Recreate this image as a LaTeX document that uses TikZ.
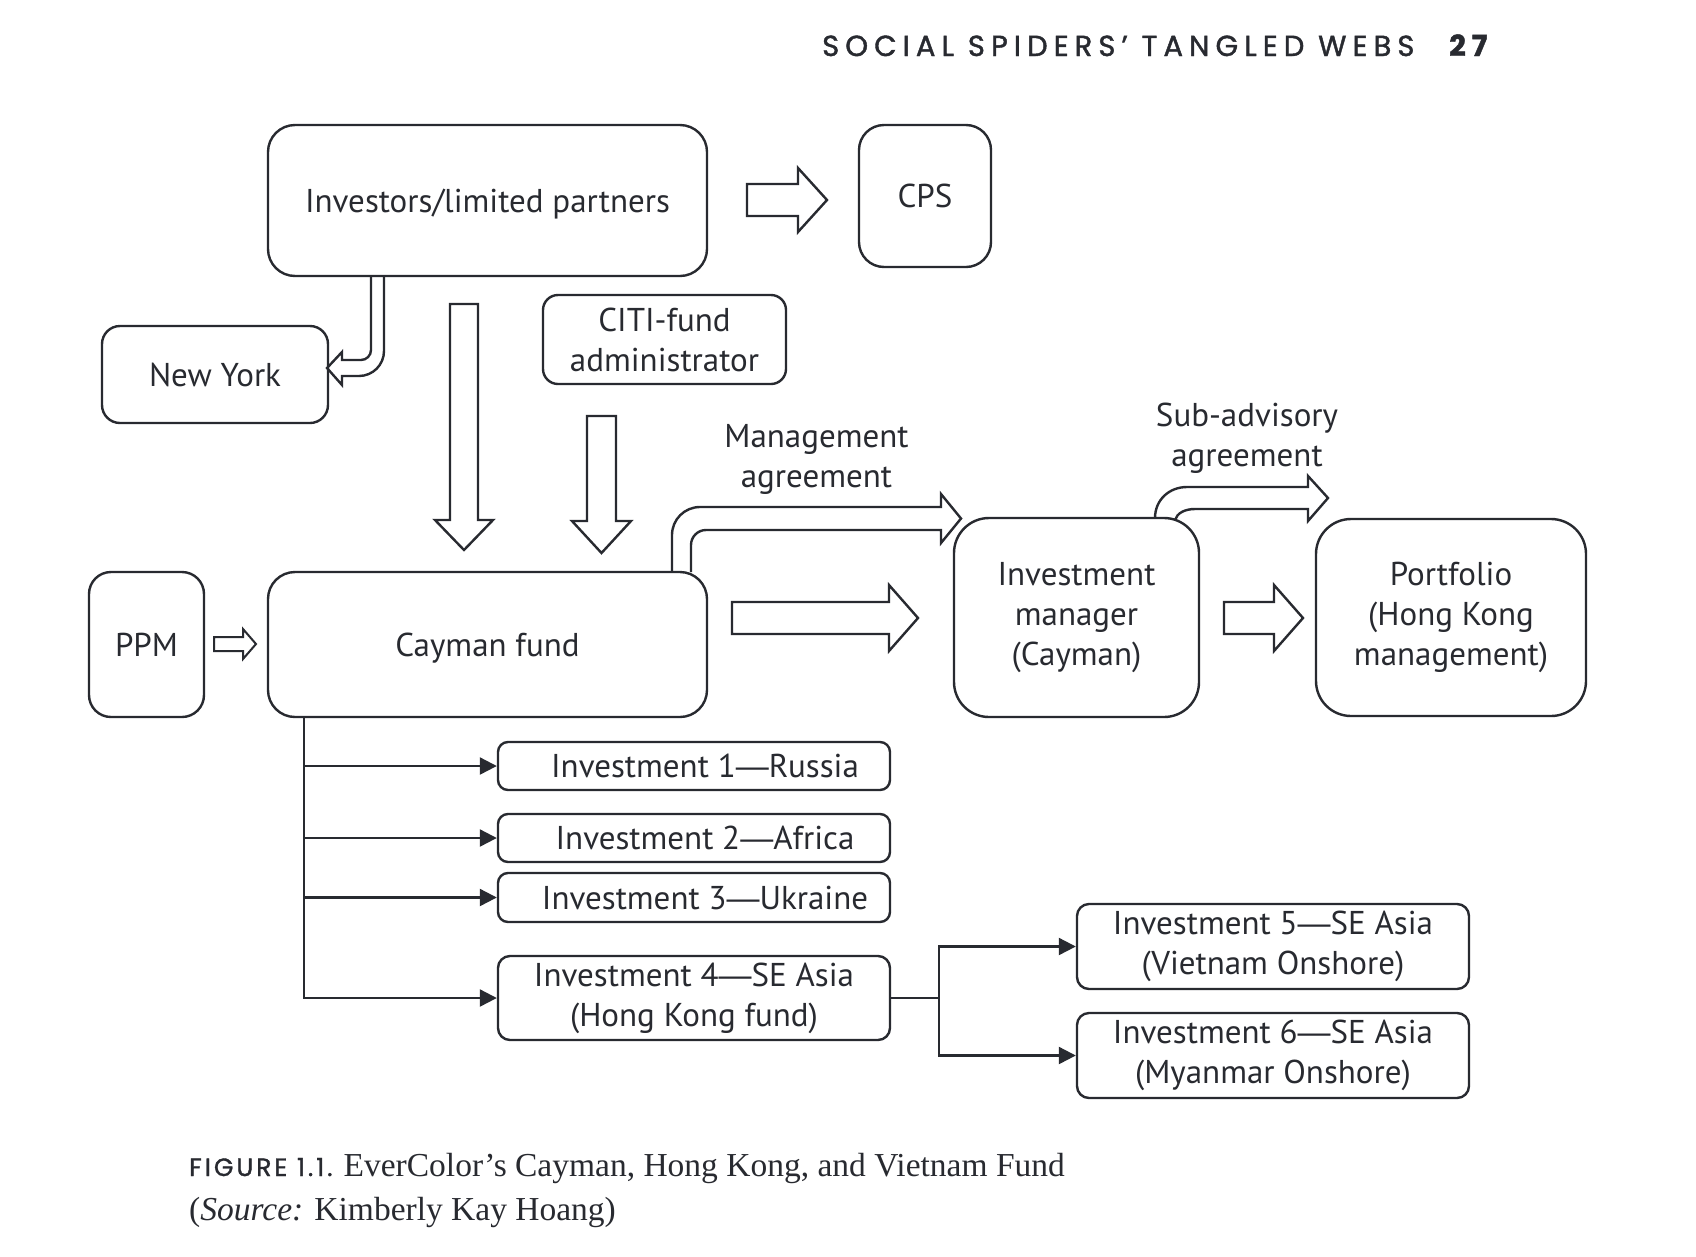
\documentclass[tikz,border=0pt]{standalone}
\usepackage{fontspec}
\usetikzlibrary{arrows.meta}
\newfontfamily\boxfont{PT Sans}
\newfontfamily\dashfont{Liberation Sans}
\newfontfamily\serifcap{Liberation Serif}
\newfontfamily\headfont[LetterSpace=21,FakeBold=1.4]{Poppins}
\newfontfamily\figfont[LetterSpace=12,FakeBold=1.3]{Poppins}
\newcommand\emd{{\dashfont —}}
\definecolor{ink}{RGB}{40,42,48}

\begin{document}
\begin{tikzpicture}[x=1pt,y=-1pt,
  every node/.style={text=ink, font=\boxfont\fontsize{33}{40}\selectfont},
  box/.style={draw=ink, line width=2.4pt, inner sep=0pt, align=center},
  hollow/.style={draw=ink, line width=2.4pt, line join=miter},
  link/.style={draw=ink, line width=2.2pt},
  tip/.style={link, -{Triangle[length=17pt,width=17pt]}},
]
\useasboundingbox[fill=white] (0,0) rectangle (1696,1256);

% running head
\node[anchor=base west, inner sep=0pt, font=\headfont\fontsize{29}{29}\selectfont] (head) at (822,56) {SOCIAL SPIDERS’ TANGLED WEBS};
\node[anchor=base west, inner sep=0pt, font=\headfont\bfseries\fontsize{29}{29}\selectfont] (page) at (1449,56) {27};

% boxes
\node[box, text depth=0pt, minimum width=439pt, minimum height=151pt, rounded corners=27pt] (inv) at (487.5,200.5) {Investors/limited partners};
\node[box, minimum width=132pt, minimum height=142pt, rounded corners=25pt] (cps) at (925,196) {CPS};
\node[box, minimum width=226pt, minimum height=97pt, rounded corners=18pt] (ny) at (215,374.5) {New York};
\node[box, minimum width=243pt, minimum height=89pt, rounded corners=15pt] (citi) at (664.5,339.5) {CITI-fund\\administrator};
\node[box, minimum width=115pt, minimum height=145pt, rounded corners=22pt] (ppm) at (146.5,644.5) {PPM};
\node[box, text depth=0pt, minimum width=439pt, minimum height=145pt, rounded corners=27pt] (cay) at (487.5,644.5) {Cayman fund};
\node[box, minimum width=245pt, minimum height=199pt, rounded corners=35pt] (mgr) at (1076.5,617.5) {Investment\\manager\\(Cayman)};
\node[box, minimum width=270pt, minimum height=197pt, rounded corners=35pt] (port) at (1451,617.5) {Portfolio\\(Hong Kong\\management)};
\node[box, minimum width=392pt, minimum height=48pt, rounded corners=10pt] (i1) at (694,766) {\hspace*{22pt}Investment 1\emd Russia};
\node[box, minimum width=392pt, minimum height=48pt, rounded corners=10pt] (i2) at (694,838) {\hspace*{22pt}Investment 2\emd Africa};
\node[box, minimum width=392pt, minimum height=49pt, rounded corners=10pt] (i3) at (694,897.5) {\hspace*{22pt}Investment 3\emd Ukraine};
\node[box, minimum width=392pt, minimum height=84pt, rounded corners=12pt] (i4) at (694,998) {Investment 4\emd SE Asia\\(Hong Kong fund)};
\node[box, minimum width=392pt, minimum height=85pt, rounded corners=12pt] (i5) at (1273,946.5) {Investment 5\emd SE Asia\\(Vietnam Onshore)};
\node[box, minimum width=392pt, minimum height=85pt, rounded corners=12pt] (i6) at (1273,1055.5) {Investment 6\emd SE Asia\\(Myanmar Onshore)};

% labels on the agreement arrows
\node[align=center, inner sep=0pt] (mgmt) at (816.5,459) {Management\\agreement};
\node[align=center, inner sep=0pt] (sub) at (1247,438) {Sub-advisory\\agreement};

% straight block arrows
\draw[hollow] (747,184) -- (798,184) -- (798,168) -- (827,200) -- (798,232) -- (798,216) -- (747,216) -- cycle;
\draw[hollow, line width=2pt] (214,637) -- (243,637) -- (243,629) -- (256,644) -- (243,659) -- (243,651) -- (214,651) -- cycle;
\draw[hollow] (732,602) -- (889,602) -- (889,585) -- (918,618) -- (889,651) -- (889,634) -- (732,634) -- cycle;
\draw[hollow] (1224,602) -- (1274,602) -- (1274,585) -- (1303,618) -- (1274,651) -- (1274,634) -- (1224,634) -- cycle;
\draw[hollow] (450,304) -- (478,304) -- (478,520) -- (493,520) -- (464,550) -- (435,520) -- (450,520) -- cycle;
\draw[hollow] (587,416) -- (616,416) -- (616,521) -- (631,521) -- (601.5,553) -- (572,521) -- (587,521) -- cycle;

% bent block arrows
\draw[hollow] (371,276) -- (371,350) .. controls (371,355.5) and (366.5,360) .. (361,360) -- (342,360) -- (342,352) -- (327,368) -- (342,385) -- (342,376) -- (359,376) .. controls (372.8,376) and (384,364.8) .. (384,351) -- (384,276);
\draw[hollow] (672,572) -- (672,535) .. controls (672,519.5) and (684.5,507) .. (700,507) -- (941,507) -- (941,494) -- (961,518.5) -- (941,543) -- (941,530) -- (706,530) .. controls (697.7,530) and (691,536.7) .. (691,545) -- (691,572);
\draw[hollow] (1155,518) .. controls (1155,500) and (1169,487) .. (1187,487) -- (1308,487) -- (1308,476) -- (1328,498) -- (1308,521) -- (1308,509) -- (1195,509) .. controls (1185,509) and (1177,513) .. (1175,520);

% investment tree
\coordinate (trunk) at (304,717);
\draw[tip] (trunk) |- (i4.west);
\draw[tip] (trunk |- i1.west) -- (i1.west);
\draw[tip] (trunk |- i2.west) -- (i2.west);
\draw[tip] (trunk |- i3.west) -- (i3.west);
\draw[link] (i4.east) -- ++(48,0) coordinate (fork);
\draw[tip] (fork) |- (i5.west);
\draw[tip] (fork) |- (i6.west);

% caption
\node[anchor=base west, inner sep=0pt, font=\serifcap\fontsize{33.5}{40}\selectfont] (cap1) at (189,1176) {{\figfont\fontsize{25}{25}\selectfont FIGURE 1.1.} EverColor’s Cayman, Hong Kong, and Vietnam Fund};
\node[anchor=base west, inner sep=0pt, font=\serifcap\fontsize{33.5}{40}\selectfont] (cap2) at (189,1220) {(\textit{Source:} Kimberly Kay Hoang)};
\end{tikzpicture}
\end{document}
